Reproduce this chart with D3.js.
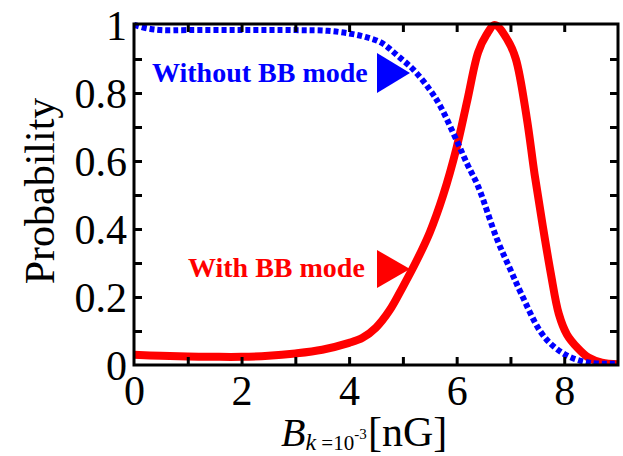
<!DOCTYPE html>
<html><head><meta charset="utf-8">
<script src="https://cdn.jsdelivr.net/npm/d3@7"></script>
<style>body{margin:0;background:#fff}svg{display:block}</style>
</head><body>
<svg id="c" width="623" height="456"></svg>
<script>
// ---- data ----
const withBB_x = [0,0.5,1,1.5,2,2.5,3,3.5,4,4.25,4.5,4.75,5,5.25,5.5,5.75,6,6.2,6.4,6.55,6.71,6.95,7.1,7.3,7.45,7.6,7.75,7.9,8.05,8.25,8.45,8.7,9];
const withBB_y = [0.03,0.027,0.025,0.024,0.024,0.027,0.034,0.045,0.065,0.08,0.11,0.16,0.23,0.305,0.39,0.5,0.64,0.78,0.92,0.97,1.0,0.955,0.9,0.73,0.56,0.41,0.27,0.15,0.09,0.05,0.022,0.007,0.002];
const withoutBB_x = [0,0.25,0.5,1,2,3,3.6,4,4.3,4.6,4.9,5.2,5.5,5.7,6,6.2,6.4,6.75,7.0,7.2,7.55,7.8,8.1,8.5,9];
const withoutBB_y = [1.0,0.99,0.985,0.985,0.985,0.985,0.983,0.975,0.965,0.948,0.91,0.868,0.81,0.76,0.66,0.59,0.525,0.37,0.28,0.21,0.10,0.055,0.024,0.006,0.004];
const xTicks = [0,2,4,6,8];
const xMinor = [1,2,3,4,5,6,7,8];
const yTicks = [0,0.2,0.4,0.6,0.8,1];
const yTickLabels = ["0","0.2","0.4","0.6","0.8","1"];
const yMinor = [0.1,0.2,0.3,0.4,0.5,0.6,0.7,0.8,0.9];
const labelWith = "With BB mode";
const labelWithout = "Without BB mode";
const yTitle = "Probability";

// ---- layout ----
const L=134, R=618, T=24, B=365;
const x = d3.scaleLinear().domain([0,9]).range([L,R]);
const y = d3.scaleLinear().domain([0,1]).range([B,25]);
const svg = d3.select("#c");
const serif = "'Liberation Serif','Times New Roman',serif";

// curves
const line = d3.line().x(d=>x(d[0])).y(d=>y(d[1])).curve(d3.curveCatmullRom.alpha(0.5));
const redData = withBB_x.map((v,i)=>[v,withBB_y[i]]);
const blueData = withoutBB_x.map((v,i)=>[v,withoutBB_y[i]]);

svg.append("clipPath").attr("id","clp").append("rect")
  .attr("x",L).attr("y",T-12).attr("width",R-L).attr("height",B-T+12);

svg.append("path").datum(redData).attr("d",line)
  .attr("fill","none").attr("stroke","#ff0000").attr("stroke-width",8)
  .attr("stroke-linejoin","miter").attr("clip-path","url(#clp)");
svg.append("path").datum(blueData).attr("d",line)
  .attr("fill","none").attr("stroke","#0000ff").attr("stroke-width",6)
  .attr("stroke-dasharray","5,3").attr("clip-path","url(#clp)");

// frame
svg.append("rect").attr("x",L).attr("y",T).attr("width",R-L).attr("height",B-T)
  .attr("fill","none").attr("stroke","#000").attr("stroke-width",3);

// ticks via axes
const tk = 8;
const ax = (g)=>{g.select(".domain").remove(); g.selectAll("line").attr("stroke","#000").attr("stroke-width",3);};
svg.append("g").attr("transform",`translate(0,${B})`)
  .call(d3.axisTop(x).tickValues(xMinor).tickSize(tk).tickFormat("")).call(ax);
svg.append("g").attr("transform",`translate(0,${T})`)
  .call(d3.axisBottom(x).tickValues(xMinor).tickSize(tk).tickFormat("")).call(ax);
svg.append("g").attr("transform",`translate(${L},0)`)
  .call(d3.axisRight(y).tickValues(yMinor).tickSize(tk).tickFormat("")).call(ax);
svg.append("g").attr("transform",`translate(${R},0)`)
  .call(d3.axisLeft(y).tickValues(yMinor).tickSize(tk).tickFormat("")).call(ax);

// tick labels
const xl = svg.append("g").attr("transform",`translate(0,${B})`)
  .call(d3.axisBottom(x).tickValues(xTicks).tickSize(0).tickPadding(40).tickFormat(d3.format("d")));
xl.select(".domain").remove();
xl.selectAll("text").attr("font-family",serif).attr("font-size",42).attr("fill","#000").attr("dy",0);
const yl = svg.append("g").attr("transform",`translate(${L},0)`)
  .call(d3.axisLeft(y).tickValues(yTicks).tickSize(0).tickPadding(7).tickFormat((d,i)=>yTickLabels[i]));
yl.select(".domain").remove();
yl.selectAll("text").attr("font-family",serif).attr("font-size",42).attr("fill","#000").attr("dy","0.34em");

// axis titles
svg.append("text").attr("transform","translate(54,191) rotate(-90)")
  .attr("text-anchor","middle").attr("font-family",serif).attr("font-size",42).text(yTitle);

const xt = svg.append("text").attr("x",281).attr("y",446).attr("font-family",serif).attr("fill","#000");
xt.append("tspan").attr("font-style","italic").attr("font-size",40).text("B");
xt.append("tspan").attr("font-style","italic").attr("font-size",24).attr("dy",4).text("k");
xt.append("tspan").attr("font-size",21).text(" =10");
xt.append("tspan").attr("font-size",15).attr("dy",-11).text("-3");
xt.append("tspan").attr("font-size",42).attr("dy",7).attr("x",368).text("[nG]");

// annotations
svg.append("text").attr("x",152).attr("y",82).attr("font-family",serif).attr("font-weight","bold")
  .attr("font-size",28).attr("fill","#0000ff").text(labelWithout);
svg.append("path").attr("d","M377,53 L410,73 L377,93 Z").attr("fill","#0000ff");
svg.append("text").attr("x",188).attr("y",277).attr("font-family",serif).attr("font-weight","bold")
  .attr("font-size",28).attr("fill","#ff0000").text(labelWith);
svg.append("path").attr("d","M377,250 L410,269 L377,288 Z").attr("fill","#ff0000");
</script>
</body></html>
